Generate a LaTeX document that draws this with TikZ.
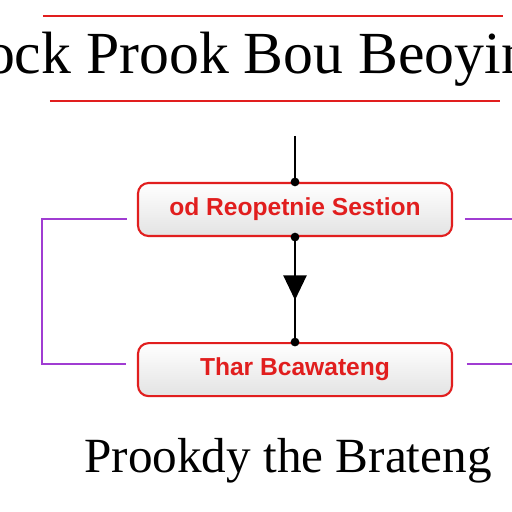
\documentclass[tikz,border=0pt]{standalone}
\usepackage{fontspec}
\setmainfont{Liberation Serif}
\newfontfamily\boxfont{Liberation Sans}
\usepackage{xcolor}
\usetikzlibrary{positioning,calc,decorations.markings,arrows.meta}

\definecolor{boxred}{RGB}{225,30,30}
\definecolor{linkpurple}{RGB}{160,60,210}

\begin{document}
\begin{tikzpicture}[x=0.02cm,y=-0.02cm,
    stagebox/.style={draw=boxred, line width=1.2pt, rounded corners=6pt, top color=white, bottom color=gray!22, minimum width=314*0.02cm, minimum height=53*0.02cm, text=boxred, font=\boxfont\bfseries\fontsize{14}{16}\selectfont},
    rule/.style={draw=boxred, line width=1.2pt},
    link/.style={draw=linkpurple, line width=1.2pt},
    flow/.style={line width=1.5pt},
    joint/.style={fill=black, circle, inner sep=0pt, minimum size=5pt}]
    % Frame
    \clip (0,0) rectangle (512,512);
    \fill[white] (0,0) rectangle (512,512);

    % Title between red rules
    \draw[rule] (43,16) -- (503,16);
    \node (title) at (258,59) {\fontsize{34}{40}\selectfont ock Prook Bou Beoyin};
    \draw[rule] (50,101) -- (500,101);

    % Stages
    \node[stagebox] (stageA) at (295,209.5) {od Reopetnie Sestion};
    \node[stagebox, below=105*0.02cm of stageA] (stageB) {Thar Bcawateng};

    % Flow
    \coordinate[above=46*0.02cm of stageA.north] (entry);
    \draw[flow] (entry) -- (stageA.north);
    \draw[flow, postaction={decorate}, decoration={markings, mark=at position 0.6 with {\arrow{Triangle[length=14pt,width=13pt]}}}] (stageA.south) -- (stageB.north);
    \node[joint] (jA) at (stageA.north) {};
    \node[joint] (jB) at (stageA.south) {};
    \node[joint] (jC) at (stageB.north) {};

    % Feedback links
    \coordinate (lA) at (127,219);
    \coordinate (lB) at (126,364);
    \draw[link] (lA) -- (42,219) -- (42,364) -- (lB);
    \coordinate (rA) at (465,219);
    \coordinate (rB) at (467,364);
    \draw[link] (rA) -- (512,219);
    \draw[link] (rB) -- (512,364);

    % Caption
    \node (caption) at (288,461) {\fontsize{28}{34}\selectfont Prookdy the Brateng};
\end{tikzpicture}
\end{document}
